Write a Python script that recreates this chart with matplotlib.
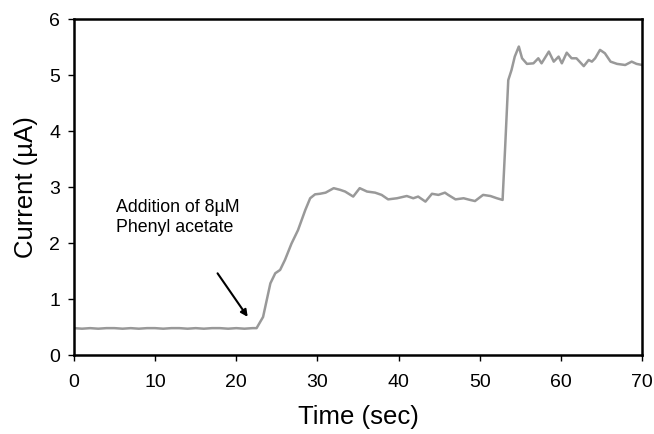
import matplotlib
matplotlib.use("Agg")
import matplotlib.pyplot as plt

plt.rcParams['font.family'] = ['Liberation Sans', 'DejaVu Sans']

# trace (time in sec, current in uA)
time = [0, 1, 2, 3, 4, 5, 6, 7, 8, 9, 10, 11, 12, 13, 14, 15, 16, 17, 18, 19, 20, 21, 22, 22.5,
        23.3, 24.2, 24.8, 25.4, 26.0, 26.8, 27.6, 28.5, 29.1, 29.7, 30.3, 31.0, 32.0, 32.8, 33.4,
        34.4, 35.2, 36.1, 37.1, 37.9, 38.7, 39.8, 41.0, 41.8, 42.4, 43.3, 44.1, 44.9, 45.7, 46.1,
        47.0, 48.0, 48.8, 49.4, 50.4, 51.3, 52.1, 52.8, 53.1, 53.5, 53.9, 54.3, 54.8, 55.2, 55.8,
        56.6, 57.2, 57.6, 58.5, 59.1, 59.7, 60.1, 60.7, 61.3, 61.9, 62.8, 63.4, 63.8, 64.2, 64.8,
        65.4, 66.1, 66.9, 67.9, 68.7, 69.3, 70.0]
current = [0.48, 0.47, 0.48, 0.47, 0.48, 0.48, 0.47, 0.48, 0.47, 0.48, 0.48, 0.47, 0.48, 0.48,
           0.47, 0.48, 0.47, 0.48, 0.48, 0.47, 0.48, 0.47, 0.48, 0.48,
           0.68, 1.28, 1.46, 1.52, 1.70, 1.99, 2.23, 2.59, 2.80, 2.87, 2.88, 2.90, 2.98, 2.95, 2.92,
           2.83, 2.98, 2.92, 2.90, 2.86, 2.78, 2.80, 2.84, 2.80, 2.83, 2.74, 2.88, 2.86, 2.90, 2.86,
           2.78, 2.80, 2.77, 2.75, 2.86, 2.84, 2.80, 2.77, 3.66, 4.91, 5.09, 5.33, 5.51, 5.30, 5.20,
           5.21, 5.30, 5.21, 5.42, 5.24, 5.33, 5.21, 5.40, 5.30, 5.30, 5.16, 5.27, 5.24, 5.30, 5.45,
           5.39, 5.24, 5.20, 5.18, 5.24, 5.20, 5.18]

xticks = [0, 10, 20, 30, 40, 50, 60, 70]
yticks = [0, 1, 2, 3, 4, 5, 6]

fig = plt.figure(figsize=(6.54, 4.34), dpi=100)
ax = fig.add_axes([0.113, 0.182, 0.869, 0.774])

ax.plot(time, current, color='#999999', linewidth=1.8)

ax.set_xlim(0, 70)
ax.set_ylim(0, 6)
ax.set_xticks(xticks)
ax.set_yticks(yticks)
ax.tick_params(direction='out', length=4, width=1, labelsize=14)
ax.tick_params(axis='x', pad=10)
ax.tick_params(axis='y', pad=6)
for s in ax.spines.values():
    s.set_linewidth(1.8)
    s.set_color('black')

ax.set_xlabel('Time (sec)', fontsize=18.5, labelpad=10)
ax.set_ylabel('Current (µA)', fontsize=18.5, labelpad=8)

ax.annotate('', xy=(21.6, 0.64), xytext=(17.5, 1.5),
            arrowprops=dict(arrowstyle='-|>', color='black', lw=1.5, mutation_scale=10))
ax.text(5.2, 2.64, 'Addition of 8µM', fontsize=12.8, va='center')
ax.text(5.2, 2.27, 'Phenyl acetate', fontsize=12.8, va='center')

fig.savefig('out.png', dpi=100)
